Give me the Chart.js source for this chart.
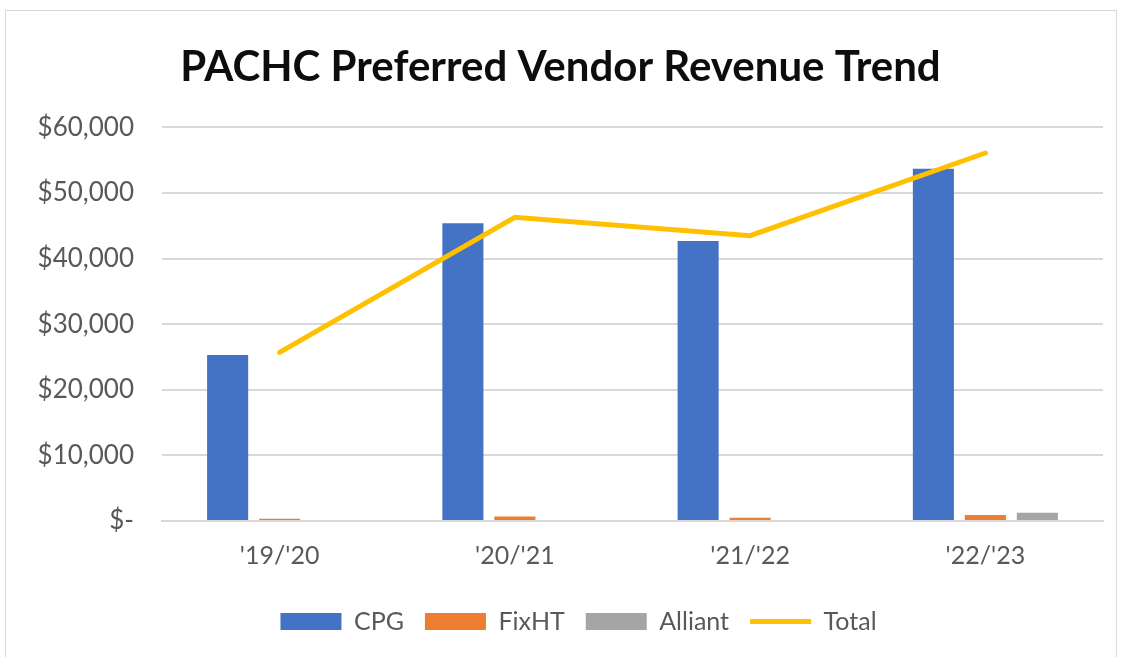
<!DOCTYPE html>
<html>
<head>
<meta charset="utf-8">
<script src="https://cdn.jsdelivr.net/npm/chart.js@4.4.1/dist/chart.umd.min.js"></script>
<style>
    html, body { margin: 0; padding: 0; background: #fff; overflow: hidden; }
    #frame {
        position: absolute;
        left: 5px;
        top: 10px;
        width: 1112px;
        height: 660px;
        border: 1px solid #d9d9d9;
        box-sizing: border-box;
        background: #fff;
    }
</style>
</head>
<body>
<div id="frame"><canvas id="chart" width="1110" height="646"></canvas></div>
<script>
    var categories = ["'19/'20", "'20/'21", "'21/'22", "'22/'23"];
    var cpgValues = [25300, 45400, 42700, 53700];
    var fixhtValues = [350, 700, 500, 900];
    var alliantValues = [0, 0, 0, 1250];
    var totalValues = [25700, 46300, 43500, 56100];
    var yTicks = [0, 10000, 20000, 30000, 40000, 50000, 60000];

    var textColor = '#595959',
        gridColor = '#d9d9d9',
        fontFamily = 'Lato, Carlito, Calibri, sans-serif';

    function money (v) {
        if (v === 0) {
            return '$-';
        }
        return '$' + v.toLocaleString('en-US');
    }

    // nudge title and legend a bit to the right, the way the original sits
    var nudgeBlocks = {
        id: 'nudgeBlocks',
        afterLayout: function (chart) {
            if (chart.titleBlock) {
                chart.titleBlock.left += 12;
            }
            if (chart.legend) {
                chart.legend.left += 48;
            }
        }
    };

    var ctx = document.getElementById('chart').getContext('2d');

    new Chart(ctx, {
        type: 'bar',
        data: {
            labels: categories,
            datasets: [{
                label: 'CPG',
                data: cpgValues,
                backgroundColor: '#4472C4',
                borderWidth: 0,
                pointStyle: 'rect',
                order: 1
            }, {
                label: 'FixHT',
                data: fixhtValues,
                backgroundColor: '#ED7D31',
                borderWidth: 0,
                pointStyle: 'rect',
                order: 1
            }, {
                label: 'Alliant',
                data: alliantValues,
                backgroundColor: '#A5A5A5',
                borderWidth: 0,
                pointStyle: 'rect',
                order: 1
            }, {
                type: 'line',
                label: 'Total',
                data: totalValues,
                borderColor: '#FFC000',
                backgroundColor: '#FFC000',
                borderWidth: 5,
                borderCapStyle: 'round',
                borderJoinStyle: 'miter',
                pointRadius: 0,
                pointHoverRadius: 0,
                pointStyle: 'line',
                tension: 0,
                fill: false,
                order: 0
            }]
        },
        plugins: [nudgeBlocks],
        options: {
            responsive: false,
            animation: false,
            events: [],
            datasets: {
                bar: {
                    categoryPercentage: 0.663,
                    barPercentage: 0.79
                }
            },
            layout: {
                padding: { left: 0, right: 13, top: 0, bottom: 13 }
            },
            plugins: {
                tooltip: { enabled: false },
                title: {
                    display: true,
                    text: 'PACHC Preferred Vendor Revenue Trend',
                    color: '#0d0d0d',
                    font: { family: fontFamily, size: 42, weight: 'bold' },
                    padding: { top: 31, bottom: 35 }
                },
                legend: {
                    position: 'bottom',
                    labels: {
                        color: textColor,
                        font: { family: fontFamily, size: 25 },
                        usePointStyle: true,
                        pointStyleWidth: 61,
                        boxHeight: 17,
                        padding: 21,
                        sort: function (a, b) {
                            return a.datasetIndex - b.datasetIndex;
                        },
                        generateLabels: function (chart) {
                            var items = Chart.defaults.plugins.legend.labels.generateLabels(chart);
                            items.forEach(function (item) {
                                var ds = chart.data.datasets[item.datasetIndex];
                                item.pointStyle = ds.pointStyle;
                                if (ds.type !== 'line') {
                                    item.lineWidth = 0;
                                }
                            });
                            return items;
                        }
                    }
                }
            },
            scales: {
                x: {
                    grid: { display: false, drawTicks: false },
                    border: { display: true, color: gridColor, width: 2 },
                    ticks: {
                        color: textColor,
                        font: { family: fontFamily, size: 25 },
                        padding: 20
                    },
                    afterFit: function (scale) {
                        scale.height = 67;
                    }
                },
                y: {
                    min: 0,
                    max: 60000,
                    grid: { color: gridColor, lineWidth: 2, drawTicks: false },
                    border: { display: false },
                    afterBuildTicks: function (scale) {
                        scale.ticks = yTicks.map(function (v) {
                            return { value: v };
                        });
                    },
                    ticks: {
                        color: textColor,
                        font: { family: fontFamily, size: 26 },
                        padding: 28,
                        callback: function (v) {
                            return money(v);
                        }
                    },
                    afterFit: function (scale) {
                        scale.width = 156;
                    }
                }
            }
        }
    });
</script>
</body>
</html>
